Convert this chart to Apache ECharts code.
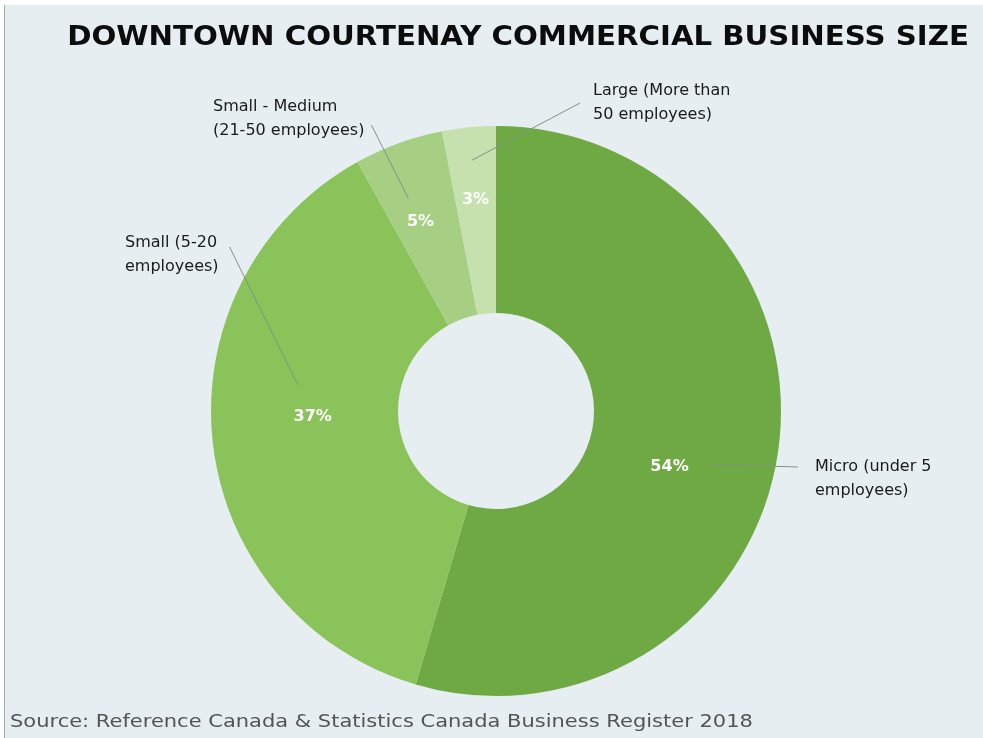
<!DOCTYPE html>
<html>
<head>
<meta charset="utf-8">
<script src="https://cdn.jsdelivr.net/npm/echarts@6/dist/echarts.min.js"></script>
<style>
html,body{margin:0;padding:0;background:#ffffff;}
#bg{position:absolute;left:4px;top:5px;right:0;bottom:0;background:#e7eef1;border-left:1px solid #a9adb0;}
#main{position:absolute;left:0;top:0;width:983px;height:738px;}
</style>
</head>
<body>
<div id="bg"></div>
<div id="main"></div>
<script>
var titleText = 'DOWNTOWN COURTENAY COMMERCIAL BUSINESS SIZE';
var sourceText = 'Source: Reference Canada & Statistics Canada Business Register 2018';
var categories = ['Micro (under 5\nemployees)', 'Small (5-20\nemployees)', 'Small - Medium\n(21-50 employees)', 'Large (More than\n50 employees)'];
var values = [54, 37, 5, 3];
var colors = ['#6fa944', '#8bc35b', '#a6cf84', '#c6e1ad'];

var chart = echarts.init(document.getElementById('main'), null, {renderer: 'canvas'});
var wideFont = '"DejaVu Sans", Verdana, sans-serif';
var CENTER = [496, 411];

// label placement (style/layout settings, not data)
var labelCfg = [
  {x: 798, y: 431, padding: [24, 0, 0, 17], lineR: 221, angleShift: 5.8},
  {x: 125, y: 215, padding: [16, 11, 0, 0], lineR: 200, angleShift: 13.9},
  {x: 213, y: 95, padding: [0, 7, 12, 0], lineR: 230, angleShift: -2.4},
  {x: 580, y: 79, padding: [0, 0, 0, 13], lineR: 252, angleShift: 0}
];
var pctShift = [[-19, 28], [10, -16], [-9, -6], [-2, -18]];

var mainData = categories.map(function (c, i) { return {name: c, value: values[i]}; });

var series = [{
  type: 'pie',
  z: 2,
  center: CENTER,
  radius: [98, 285],
  startAngle: 90,
  clockwise: true,
  silent: true,
  avoidLabelOverlap: false,
  data: mainData,
  label: {
    show: true, position: 'inside', formatter: '{c}%',
    color: '#ffffff', fontWeight: 'bold', fontSize: 16, fontFamily: wideFont
  },
  labelLine: {show: false},
  labelLayout: function (p) {
    var s = pctShift[p.dataIndex];
    return {dx: s[0], dy: s[1]};
  }
}];

labelCfg.forEach(function (cfg, k) {
  series.push({
    type: 'pie',
    z: 5,
    center: CENTER,
    radius: [0, cfg.lineR],
    startAngle: 90 - cfg.angleShift,
    clockwise: true,
    silent: true,
    avoidLabelOverlap: false,
    itemStyle: {color: 'rgba(0,0,0,0)'},
    data: categories.map(function (c, i) {
      return {
        name: c, value: values[i],
        label: {show: i === k},
        labelLine: {show: i === k}
      };
    }),
    label: {
      position: 'outside', formatter: '{b}',
      color: '#1a1a1a', fontSize: 16, lineHeight: 24, fontFamily: wideFont,
      align: 'left', padding: cfg.padding
    },
    labelLine: {length: 10, length2: 0, lineStyle: {color: '#7f9384', width: 1}},
    labelLayout: function () {
      return {x: cfg.x, y: cfg.y, align: 'left', verticalAlign: 'top'};
    }
  });
});

chart.setOption({
  backgroundColor: 'transparent',
  animation: false,
  color: colors,
  graphic: [{
    type: 'text', x: 518, y: 38, scaleX: 1.083, silent: true,
    style: {text: titleText, fill: '#0c0c0c', font: 'bold 27px "DejaVu Sans", sans-serif', align: 'center', verticalAlign: 'middle'}
  }, {
    type: 'text', x: 10, y: 723, scaleX: 1.235, silent: true,
    style: {text: sourceText, fill: '#545454', font: '17px "DejaVu Sans", sans-serif', align: 'left', verticalAlign: 'middle'}
  }],
  series: series
});
</script>
</body>
</html>
